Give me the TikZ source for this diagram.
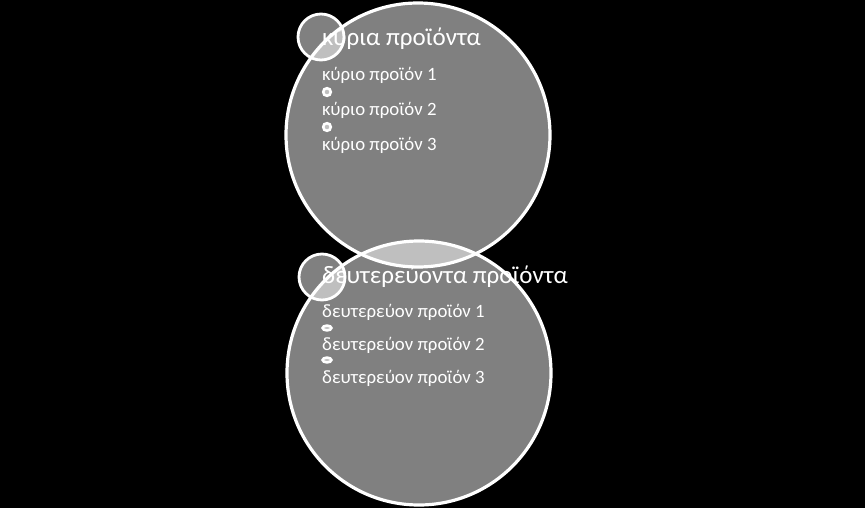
\documentclass[tikz,border=0pt]{standalone}
\usepackage{fontspec}
\setmainfont{Carlito}
\tikzset{
  bigcirc/.style={draw=white, line width=3.2pt, fill=white, fill opacity=0.5},
  tagcirc/.style={draw=white, line width=2.8pt, fill=white, fill opacity=0.5},
  dotcirc/.style={draw=white, line width=2.6pt, fill=white, fill opacity=0.5},
  head/.style={anchor=west, text=white, inner sep=0pt, font=\fontsize{25}{30}\selectfont},
  item/.style={anchor=west, text=white, inner sep=0pt, font=\fontsize{18.8}{22}\selectfont}
}
\begin{document}
\begin{tikzpicture}[x=1pt,y=-1pt]
        % background
        \useasboundingbox [fill=black] (0,0) rectangle (865,508);
        % big circles
        \draw [bigcirc] (418,135) circle (132);
        \draw [bigcirc] (419,373) circle (132);
        % small circles
        \draw [tagcirc] (321,37) circle (23);
        \draw [tagcirc] (322,277) circle (23);
        % bullets
        \draw [dotcirc] (327,92) circle (3.8);
        \draw [dotcirc] (327,127) circle (3.8);
        \draw [dotcirc] (327,328) ellipse (4.4 and 2.4);
        \draw [dotcirc] (327,360) ellipse (4.4 and 2.4);
        % upper texts
        \node (head1) [head] at (322,39) {κύρια προϊόντα};
        \node (item11) [item] at (322,75) {κύριο προϊόν 1};
        \node (item12) [item] at (322,110) {κύριο προϊόν 2};
        \node (item13) [item] at (322,145) {κύριο προϊόν 3};
        % lower texts
        \node (head2) [head] at (322,277) {δευτερεύοντα προϊόντα};
        \node (item21) [item] at (322,312) {δευτερεύον προϊόν 1};
        \node (item22) [item] at (322,345) {δευτερεύον προϊόν 2};
        \node (item23) [item] at (322,378) {δευτερεύον προϊόν 3};

    \end{tikzpicture}
\end{document}
